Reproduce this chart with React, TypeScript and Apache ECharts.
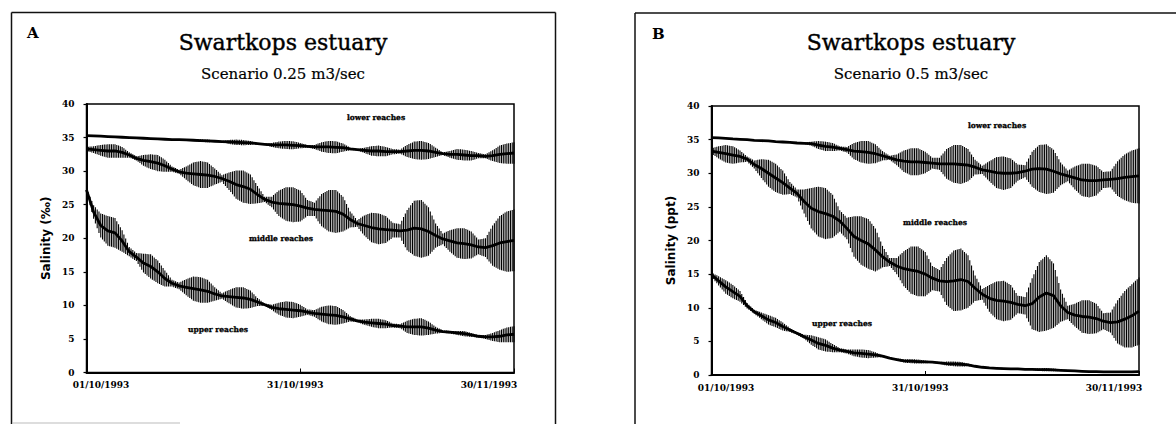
import React, { useEffect, useRef } from "react";
import * as echarts from "echarts";

// Days since 01/10/1993 (0 … 60 = 30/11/1993)
const DAYS = Array.from({ length: 61 }, (_, i) => i);
const X_TICK_LABELS = ["01/10/1993", "31/10/1993", "30/11/1993"];

// ---------- Panel A : Scenario 0.25 m3/sec ----------
// daily mean salinity and half tidal range
const A_LOWER_MID = [35.3, 35.25, 35.2, 35.15, 35.1, 35.05, 35.0, 34.95, 34.9, 34.85, 34.8, 34.75, 34.7, 34.7, 34.65, 34.6, 34.55, 34.5, 34.45, 34.4, 34.35, 34.3, 34.25, 34.2, 34.1, 34.0, 33.9, 33.9, 33.9, 33.85, 33.8, 33.7, 33.6, 33.6, 33.6, 33.55, 33.5, 33.3, 33.2, 33.1, 33.0, 33.0, 32.9, 32.9, 32.9, 33.0, 33.1, 33.1, 33.0, 32.8, 32.6, 32.5, 32.5, 32.4, 32.3, 32.3, 32.2, 32.3, 32.5, 32.6, 32.7];
const A_LOWER_AMP = [0, 0, 0, 0, 0, 0, 0, 0, 0, 0, 0, 0, 0, 0, 0, 0.1, 0.2, 0.2, 0.1, 0.1, 0.3, 0.4, 0.4, 0.3, 0.1, 0.1, 0.3, 0.5, 0.6, 0.6, 0.4, 0.2, 0.3, 0.7, 0.9, 0.9, 0.6, 0.2, 0.1, 0.4, 0.7, 0.8, 0.7, 0.4, 0.3, 0.9, 1.3, 1.4, 1.2, 0.7, 0.2, 0.5, 0.8, 0.8, 0.7, 0.4, 0.3, 0.8, 1.3, 1.5, 1.6];
const A_MIDDLE_MID = [33.3, 33.2, 33.1, 33.0, 33.0, 32.8, 32.4, 31.9, 31.6, 31.4, 31.2, 30.8, 30.3, 29.9, 29.7, 29.6, 29.5, 29.4, 29.2, 28.9, 28.5, 28.0, 27.7, 27.3, 26.5, 25.8, 25.4, 25.2, 25.1, 25.0, 24.8, 24.5, 24.3, 24.2, 24.1, 24.0, 23.6, 22.8, 22.2, 21.9, 21.6, 21.4, 21.3, 21.2, 21.1, 21.2, 21.5, 21.4, 21.0, 20.4, 19.9, 19.6, 19.3, 19.2, 19.0, 18.7, 18.6, 18.9, 19.3, 19.5, 19.7];
const A_MIDDLE_AMP = [0.3, 0.5, 0.8, 1.0, 1.0, 0.8, 0.4, 0.3, 0.8, 1.1, 1.2, 0.9, 0.4, 0.3, 1.0, 1.7, 2.0, 1.9, 1.2, 0.5, 1.3, 2.1, 2.4, 2.2, 1.3, 0.4, 0.8, 1.9, 2.5, 2.6, 2.3, 1.2, 1.0, 2.4, 3.1, 3.2, 2.6, 1.2, 0.5, 1.5, 2.2, 2.3, 2.0, 1.1, 1.0, 3.0, 4.1, 4.3, 3.6, 1.8, 0.8, 1.6, 2.2, 2.3, 2.0, 1.1, 1.4, 3.0, 4.0, 4.5, 4.6];
const A_UPPER_MID = [27.2, 23.9, 21.9, 21.1, 20.8, 19.6, 18.0, 17.2, 16.3, 15.8, 15.0, 14.0, 13.3, 12.9, 12.7, 12.5, 12.3, 12.1, 11.7, 11.4, 11.3, 11.2, 11.1, 10.9, 10.5, 10.1, 9.7, 9.5, 9.4, 9.3, 9.2, 9.0, 8.8, 8.7, 8.6, 8.5, 8.3, 8.0, 7.7, 7.5, 7.4, 7.3, 7.2, 7.0, 6.9, 6.8, 6.8, 6.8, 6.6, 6.3, 6.1, 6.0, 5.9, 5.8, 5.6, 5.4, 5.3, 5.3, 5.4, 5.6, 5.7];
const A_UPPER_AMP = [0.3, 1.0, 1.8, 2.2, 2.2, 1.6, 0.7, 0.6, 1.4, 1.8, 1.7, 1.2, 0.5, 0.5, 1.2, 1.8, 1.9, 1.7, 1.0, 0.4, 1.0, 1.5, 1.6, 1.3, 0.6, 0.2, 0.4, 0.9, 1.2, 1.2, 0.9, 0.4, 0.5, 1.1, 1.4, 1.4, 1.0, 0.4, 0.2, 0.4, 0.6, 0.7, 0.6, 0.3, 0.3, 0.9, 1.2, 1.3, 1.0, 0.5, 0.2, 0.2, 0.3, 0.4, 0.3, 0.2, 0.3, 0.6, 0.9, 1.1, 1.2];

// ---------- Panel B : Scenario 0.5 m3/sec ----------
const B_LOWER_MID = [35.3, 35.25, 35.2, 35.1, 35.05, 35.0, 34.9, 34.85, 34.8, 34.7, 34.65, 34.6, 34.5, 34.45, 34.4, 34.2, 34.0, 33.9, 33.7, 33.5, 33.3, 33.2, 33.1, 32.9, 32.6, 32.3, 32.0, 31.8, 31.7, 31.7, 31.6, 31.5, 31.4, 31.4, 31.4, 31.3, 31.2, 30.9, 30.5, 30.3, 30.1, 30.0, 30.0, 30.1, 30.3, 30.6, 30.7, 30.6, 30.3, 29.9, 29.6, 29.3, 29.0, 28.9, 28.9, 29.0, 29.1, 29.2, 29.4, 29.5, 29.6];
const B_LOWER_AMP = [0, 0, 0, 0, 0, 0, 0, 0, 0, 0, 0, 0, 0, 0.1, 0.3, 0.6, 0.7, 0.6, 0.3, 0.4, 1.2, 1.6, 1.7, 1.4, 0.7, 0.3, 0.8, 1.6, 2.0, 2.0, 1.6, 0.8, 0.9, 2.2, 2.8, 2.9, 2.4, 1.1, 0.6, 1.5, 2.3, 2.5, 2.2, 1.2, 0.9, 2.6, 3.5, 3.7, 3.2, 1.7, 0.8, 1.7, 2.4, 2.5, 2.2, 1.2, 1.2, 2.6, 3.4, 3.9, 4.1];
const B_MIDDLE_MID = [33.3, 33.1, 32.9, 32.7, 32.5, 32.1, 31.3, 30.7, 30.0, 29.3, 28.6, 27.8, 27.0, 25.8, 24.8, 24.3, 24.0, 23.6, 22.9, 21.8, 20.6, 20.0, 19.5, 18.6, 17.6, 16.8, 16.2, 15.8, 15.6, 15.4, 15.0, 14.4, 14.0, 13.9, 14.0, 14.2, 13.9, 12.9, 12.0, 11.4, 11.1, 11.0, 10.8, 10.5, 10.3, 10.6, 11.6, 12.2, 11.8, 10.3, 9.3, 8.9, 8.7, 8.6, 8.4, 8.0, 7.8, 7.9, 8.3, 8.8, 9.5];
const B_MIDDLE_AMP = [0.4, 0.9, 1.3, 1.3, 0.9, 0.4, 0.6, 1.4, 2.0, 2.1, 1.8, 0.9, 0.6, 1.8, 3.0, 3.7, 3.8, 3.2, 1.6, 1.6, 3.0, 3.6, 3.7, 3.2, 1.6, 0.6, 1.2, 2.6, 3.5, 3.7, 3.3, 1.8, 1.6, 3.5, 4.5, 4.6, 3.9, 1.9, 0.8, 2.0, 2.8, 3.0, 2.6, 1.3, 1.3, 3.8, 5.2, 5.6, 4.8, 2.4, 1.0, 1.7, 2.4, 2.5, 2.2, 1.2, 1.5, 3.2, 4.2, 4.7, 5.0];
const B_UPPER_MID = [14.9, 14.0, 13.1, 12.4, 11.7, 10.3, 9.4, 8.8, 8.2, 7.8, 7.2, 6.7, 6.2, 5.7, 5.2, 4.7, 4.4, 4.0, 3.7, 3.5, 3.3, 3.2, 3.1, 3.0, 2.8, 2.5, 2.3, 2.1, 2.05, 2.0, 1.95, 1.9, 1.8, 1.7, 1.65, 1.6, 1.5, 1.3, 1.15, 1.05, 1.0, 0.95, 0.9, 0.9, 0.85, 0.85, 0.8, 0.8, 0.75, 0.7, 0.65, 0.6, 0.55, 0.5, 0.5, 0.45, 0.45, 0.45, 0.45, 0.45, 0.5];
const B_UPPER_AMP = [0.3, 0.7, 1.0, 1.0, 0.8, 0.4, 0.3, 0.5, 0.7, 0.7, 0.6, 0.3, 0.2, 0.3, 0.7, 0.9, 0.9, 0.6, 0.3, 0.3, 0.5, 0.6, 0.6, 0.4, 0.15, 0.1, 0.15, 0.25, 0.3, 0.3, 0.2, 0.1, 0.15, 0.3, 0.35, 0.35, 0.2, 0.1, 0.1, 0.1, 0.1, 0.1, 0.1, 0.1, 0.1, 0.1, 0.2, 0.25, 0.2, 0.1, 0.1, 0.05, 0.05, 0.05, 0.05, 0.05, 0.05, 0.05, 0.05, 0.05, 0.05];

const REACH_NAMES = ["lower reaches", "middle reaches", "upper reaches"];

const PANELS = [
  {
    letter: "A",
    title: "Swartkops estuary",
    subtitle: "Scenario 0.25 m3/sec",
    yName: "Salinity (‰)",
    grid: { left: 86.5, top: 104, width: 427.5, height: 268.5 },
    titleX: 283,
    letterPos: [27, 33],
    reaches: [
      { mid: A_LOWER_MID, amp: A_LOWER_AMP, label: [376, 117] },
      { mid: A_MIDDLE_MID, amp: A_MIDDLE_AMP, label: [281, 238] },
      { mid: A_UPPER_MID, amp: A_UPPER_AMP, label: [218, 329] },
    ],
  },
  {
    letter: "B",
    title: "Swartkops estuary",
    subtitle: "Scenario 0.5 m3/sec",
    yName: "Salinity (ppt)",
    grid: { left: 711.5, top: 106, width: 427.5, height: 269 },
    titleX: 911,
    letterPos: [652, 34],
    reaches: [
      { mid: B_LOWER_MID, amp: B_LOWER_AMP, label: [997, 125] },
      { mid: B_MIDDLE_MID, amp: B_MIDDLE_AMP, label: [935, 222] },
      { mid: B_UPPER_MID, amp: B_UPPER_AMP, label: [842, 323] },
    ],
  },
];

const TICK_FONT = { fontFamily: "DejaVu Serif", fontWeight: "bold" as const, fontSize: 9, color: "#000" };

function hatchRenderer(mid: number[], amp: number[]) {
  return (params: any, api: any) => {
    const i = params.dataIndex;
    const last = i >= DAYS.length - 1;
    const d0 = DAYS[i];
    const d1 = last ? DAYS[i] : DAYS[i + 1];
    const m1 = last ? mid[i] : mid[i + 1];
    const a1 = last ? amp[i] : amp[i + 1];
    const n = last ? 1 : 4;
    const children: any[] = [];
    for (let k = 0; k < n; k++) {
      const t = k / n;
      const d = d0 + t * (d1 - d0);
      const m = mid[i] + t * (m1 - mid[i]);
      const a = amp[i] + t * (a1 - amp[i]);
      if (a < 0.08) continue;
      const top = api.coord([d, m + a]);
      const bot = api.coord([d, Math.max(0, m - a)]);
      children.push({
        type: "line",
        shape: { x1: top[0], y1: top[1], x2: bot[0], y2: bot[1] },
        style: { stroke: "#000", lineWidth: 1.1 },
      });
    }
    return { type: "group", children };
  };
}

function buildOption() {
  const grid: any[] = [];
  const xAxis: any[] = [];
  const yAxis: any[] = [];
  const series: any[] = [];
  const graphic: any[] = [];

  PANELS.forEach((p, gi) => {
    grid.push({ ...p.grid, show: true, borderColor: "#000", borderWidth: 1.5, containLabel: false });
    xAxis.push({
      type: "value",
      gridIndex: gi,
      min: 0,
      max: 60,
      interval: 30,
      splitLine: { show: false },
      axisLine: { lineStyle: { color: "#000", width: 2 } },
      axisTick: { inside: true, length: 4, lineStyle: { color: "#000", width: 1 } },
      axisLabel: {
        margin: 8,
        ...TICK_FONT,
        formatter: (v: number) => {
          const idx = Math.round(v / 30);
          const key = ["s", "m", "e"][idx];
          return `{${key}|${X_TICK_LABELS[idx]}}`;
        },
        rich: {
          s: { ...TICK_FONT, padding: [0, 0, 0, 29] },
          m: { ...TICK_FONT, padding: [0, 10, 0, 0] },
          e: { ...TICK_FONT, padding: [0, 50, 0, 0] },
        },
      },
    });
    yAxis.push({
      type: "value",
      gridIndex: gi,
      min: 0,
      max: 40,
      interval: 5,
      splitLine: { show: false },
      axisLine: { show: true, lineStyle: { color: "#000", width: 2 } },
      axisTick: { show: true, length: 3, lineStyle: { color: "#000", width: 1.2 } },
      axisLabel: { margin: 12, ...TICK_FONT },
      name: p.yName,
      nameLocation: "middle",
      nameGap: 35,
      nameTextStyle: { fontFamily: "DejaVu Sans", fontWeight: "bold", fontSize: 12, color: "#000" },
    });

    p.reaches.forEach((r, ri) => {
      series.push({
        type: "custom",
        name: `${p.letter} ${REACH_NAMES[ri]} tidal range`,
        xAxisIndex: gi,
        yAxisIndex: gi,
        renderItem: hatchRenderer(r.mid, r.amp),
        data: DAYS.map((d, i) => [d, r.mid[i], r.amp[i]]),
        encode: { x: 0, y: 1 },
        clip: true,
        z: 2,
      });
      series.push({
        type: "line",
        name: `${p.letter} ${REACH_NAMES[ri]}`,
        xAxisIndex: gi,
        yAxisIndex: gi,
        data: DAYS.map((d, i) => [d, r.mid[i]]),
        showSymbol: false,
        lineStyle: { color: "#000", width: 2.8 },
        z: 3,
      });
      graphic.push({
        type: "text",
        x: r.label[0],
        y: r.label[1],
        style: {
          text: REACH_NAMES[ri],
          fontFamily: "DejaVu Serif",
          fontWeight: "bold",
          fontSize: 7.5,
          fill: "#000",
          stroke: "#000",
          lineWidth: 0.3,
          align: "center",
          verticalAlign: "middle",
        },
      });
    });

    graphic.push({
      type: "text",
      x: p.titleX,
      y: 42,
      style: { text: p.title, fontFamily: "DejaVu Serif", fontSize: 22, fill: "#000", stroke: "#000", lineWidth: 0.4, align: "center", verticalAlign: "middle" },
    });
    graphic.push({
      type: "text",
      x: p.titleX,
      y: 74,
      style: { text: p.subtitle, fontFamily: "DejaVu Serif", fontSize: 15, fill: "#000", stroke: "#000", lineWidth: 0.2, align: "center", verticalAlign: "middle" },
    });
    graphic.push({
      type: "text",
      x: p.letterPos[0],
      y: p.letterPos[1],
      style: { text: p.letter, fontFamily: "DejaVu Serif", fontWeight: "bold", fontSize: 15, fill: "#000", align: "left", verticalAlign: "middle" },
    });
  });

  const frame = { stroke: "#111", lineWidth: 1.5 };
  graphic.push(
    { type: "line", shape: { x1: 11.5, y1: 12.5, x2: 11.5, y2: 424 }, style: frame },
    { type: "line", shape: { x1: 11.5, y1: 12.5, x2: 555.5, y2: 12.5 }, style: frame },
    { type: "line", shape: { x1: 555.5, y1: 12.5, x2: 555.5, y2: 424 }, style: frame },
    { type: "line", shape: { x1: 12, y1: 423, x2: 180, y2: 423 }, style: { stroke: "#bbb", lineWidth: 1 } },
    { type: "line", shape: { x1: 635, y1: 13, x2: 635, y2: 424 }, style: frame },
    { type: "line", shape: { x1: 635, y1: 13, x2: 1176, y2: 13 }, style: frame }
  );

  return {
    animation: false,
    backgroundColor: "#fff",
    grid,
    xAxis,
    yAxis,
    series,
    graphic,
  };
}

export default function App() {
  const ref = useRef<HTMLDivElement>(null);
  useEffect(() => {
    if (!ref.current) return;
    const chart = echarts.init(ref.current, undefined, { renderer: "svg" });
    chart.setOption(buildOption() as any);
    return () => chart.dispose();
  }, []);
  return (
    <div
      ref={ref}
      style={{ position: "fixed", left: 0, top: 0, width: 1176, height: 424, background: "#fff" }}
    />
  );
}
